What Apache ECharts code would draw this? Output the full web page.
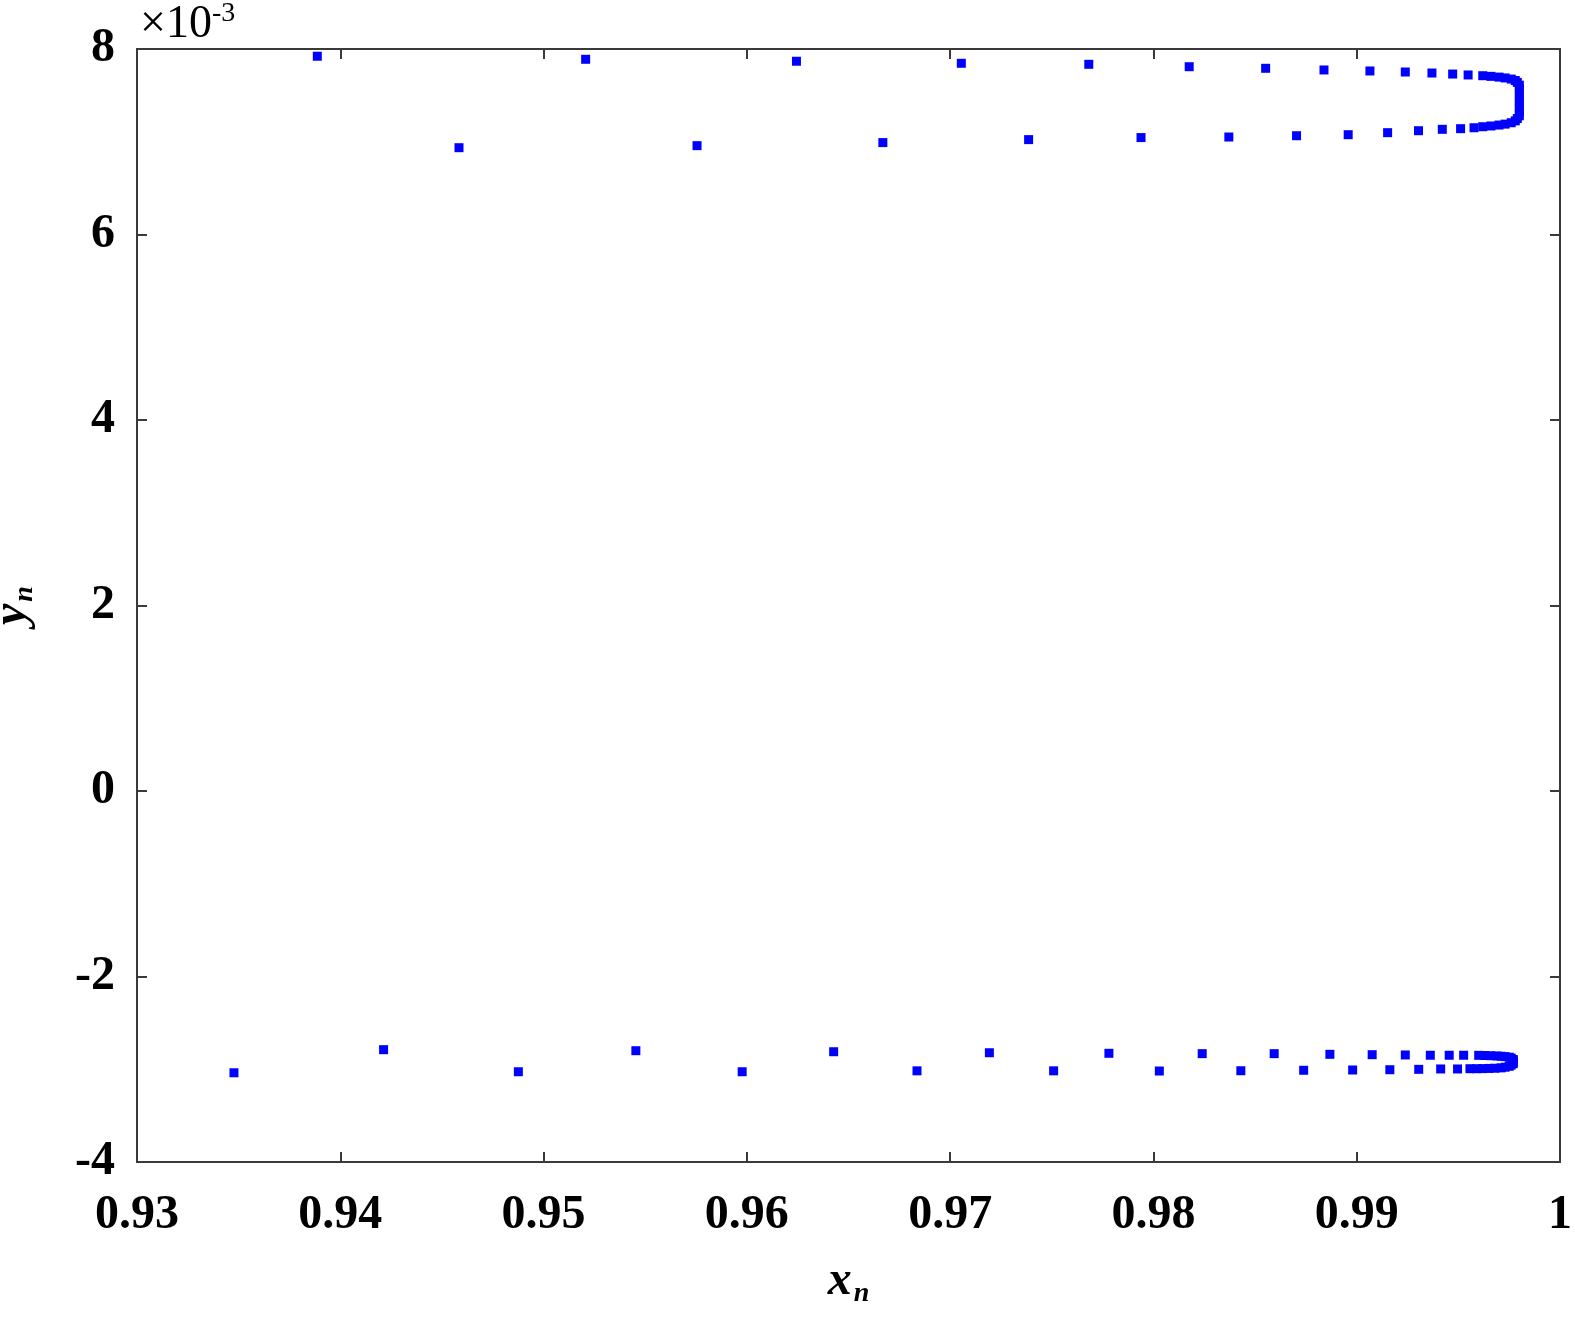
<!DOCTYPE html>
<html>
<head>
<meta charset="utf-8">
<script src="https://cdn.jsdelivr.net/npm/echarts@6/dist/echarts.min.js"></script>
<style>
  html, body { margin: 0; padding: 0; background: #fff; }
  #chart { width: 1575px; height: 1328px; }
</style>
</head>
<body>
<div id="chart"></div>
<script>
// y values are in units of 1e-3
// upper cluster, outer row (y ~ 7.8)
var topOuterX = [0.93887, 0.95207, 0.96244, 0.97055, 0.97682, 0.98176, 0.98552, 0.98839, 0.99065, 0.99239, 0.99370, 0.99472, 0.99548];
var topOuterY = [7.922, 7.889, 7.868, 7.846, 7.835, 7.809, 7.792, 7.774, 7.763, 7.752, 7.741, 7.730, 7.720];
// upper cluster, inner row (y ~ 7.0)
var topInnerX = [0.94584, 0.95755, 0.96669, 0.97386, 0.97939, 0.98371, 0.98704, 0.98958, 0.99152, 0.99304, 0.99421, 0.99511, 0.99577];
var topInnerY = [6.936, 6.958, 6.991, 7.023, 7.045, 7.051, 7.065, 7.076, 7.098, 7.119, 7.134, 7.141, 7.151];
// upper cluster, dense turn near the fixed point
var topTurnX = [0.9962, 0.9966, 0.9970, 0.9973, 0.9976, 0.9978, 0.9979, 0.9980, 0.9980, 0.9980, 0.9980, 0.9980, 0.9980, 0.9980, 0.9980, 0.9979, 0.9978, 0.9976, 0.9973, 0.9970, 0.9966, 0.9962];
var topTurnY = [7.712, 7.705, 7.697, 7.688, 7.676, 7.660, 7.640, 7.610, 7.570, 7.520, 7.470, 7.420, 7.370, 7.320, 7.280, 7.250, 7.225, 7.205, 7.190, 7.180, 7.170, 7.162];
// lower cluster, upper row (y ~ -2.8)
var botUpperX = [0.94213, 0.95454, 0.96427, 0.97193, 0.97781, 0.98240, 0.98594, 0.98868, 0.99076, 0.99239, 0.99362, 0.99455, 0.99526];
var botUpperY = [-2.789, -2.800, -2.811, -2.822, -2.828, -2.832, -2.832, -2.839, -2.843, -2.846, -2.849, -2.849, -2.849];
// lower cluster, lower row (y ~ -3.0)
var botLowerX = [0.93477, 0.94876, 0.95977, 0.96837, 0.97509, 0.98029, 0.98430, 0.98739, 0.98980, 0.99163, 0.99305, 0.99413, 0.99496, 0.99557];
var botLowerY = [-3.038, -3.027, -3.027, -3.017, -3.017, -3.019, -3.016, -3.011, -3.008, -3.005, -3.001, -2.997, -2.997, -2.994];
// lower cluster, dense turn
var botTurnX = [0.9960, 0.9963, 0.9966, 0.9969, 0.9971, 0.9973, 0.9975, 0.9976, 0.9977, 0.9977, 0.9977, 0.9977, 0.9976, 0.9975, 0.9973, 0.9971, 0.9968, 0.9965, 0.9962, 0.9959];
var botTurnY = [-2.850, -2.852, -2.854, -2.857, -2.860, -2.864, -2.870, -2.880, -2.895, -2.910, -2.925, -2.940, -2.955, -2.968, -2.978, -2.985, -2.989, -2.991, -2.993, -2.994];

var xTicks = [0.93, 0.94, 0.95, 0.96, 0.97, 0.98, 0.99, 1];
var yTicks = [-4, -2, 0, 2, 4, 6, 8];

function pairs(xs, ys) {
  var out = [];
  for (var i = 0; i < xs.length; i++) out.push([xs[i], ys[i]]);
  return out;
}

var points = [].concat(
  pairs(topOuterX, topOuterY), pairs(topTurnX, topTurnY), pairs(topInnerX, topInnerY),
  pairs(botUpperX, botUpperY), pairs(botTurnX, botTurnY), pairs(botLowerX, botLowerY)
);

var serif = '"Liberation Serif", "DejaVu Serif", serif';
var lineCol = '#3a3a3a';
var labelStyle = { color: '#000', fontFamily: serif, fontSize: 48, fontWeight: 'bold' };
var tickStyle = { inside: true, length: 10, lineStyle: { color: lineCol, width: 2 } };
var nameRich = {
  a: { fontFamily: serif, fontSize: 48, fontStyle: 'italic', fontWeight: 'bold', color: '#000' },
  b: { fontFamily: serif, fontSize: 28, fontStyle: 'italic', fontWeight: 'bold', color: '#000', padding: [24, 0, 0, 2] }
};

var chart = echarts.init(document.getElementById('chart'));
chart.setOption({
  backgroundColor: '#fff',
  animation: false,
  grid: {
    left: 137, right: 15, top: 49, bottom: 166,
    containLabel: false, outerBoundsMode: 'none',
    show: true, borderColor: lineCol, borderWidth: 2
  },
  xAxis: [
    {
      type: 'value', min: xTicks[0], max: xTicks[xTicks.length - 1], interval: 0.01,
      position: 'bottom',
      axisLine: { show: false, onZero: false },
      axisTick: tickStyle,
      splitLine: { show: false },
      axisLabel: Object.assign({ margin: 30 }, labelStyle),
      name: '{a|x}{b|n}', nameLocation: 'middle', nameGap: 94,
      nameTextStyle: { rich: nameRich }
    },
    {
      type: 'value', min: xTicks[0], max: xTicks[xTicks.length - 1], interval: 0.01,
      position: 'top',
      axisLine: { show: false, onZero: false },
      axisTick: tickStyle,
      splitLine: { show: false },
      axisLabel: { show: false }
    }
  ],
  yAxis: [
    {
      type: 'value', min: yTicks[0], max: yTicks[yTicks.length - 1], interval: 2,
      position: 'left',
      axisLine: { show: false, onZero: false },
      axisTick: tickStyle,
      splitLine: { show: false },
      axisLabel: Object.assign({ margin: 22 }, labelStyle),
      name: '{a|y}{b|n}', nameLocation: 'middle', nameGap: 98, nameRotate: 90,
      nameTextStyle: { rich: nameRich }
    },
    {
      type: 'value', min: yTicks[0], max: yTicks[yTicks.length - 1], interval: 2,
      position: 'right',
      axisLine: { show: false, onZero: false },
      axisTick: tickStyle,
      splitLine: { show: false },
      axisLabel: { show: false }
    }
  ],
  graphic: [
    {
      type: 'text', left: 140, top: 0,
      style: {
        text: '{a|×10}{b|-3}',
        rich: {
          a: { fontFamily: serif, fontSize: 46, fill: '#000' },
          b: { fontFamily: serif, fontSize: 28, fill: '#000', padding: [0, 0, 22, 0] }
        }
      }
    }
  ],
  series: [
    {
      type: 'scatter',
      xAxisIndex: 0, yAxisIndex: 0,
      symbol: 'rect', symbolSize: 9,
      itemStyle: { color: '#0000ff', opacity: 1 },
      data: points
    }
  ]
});
</script>
</body>
</html>
